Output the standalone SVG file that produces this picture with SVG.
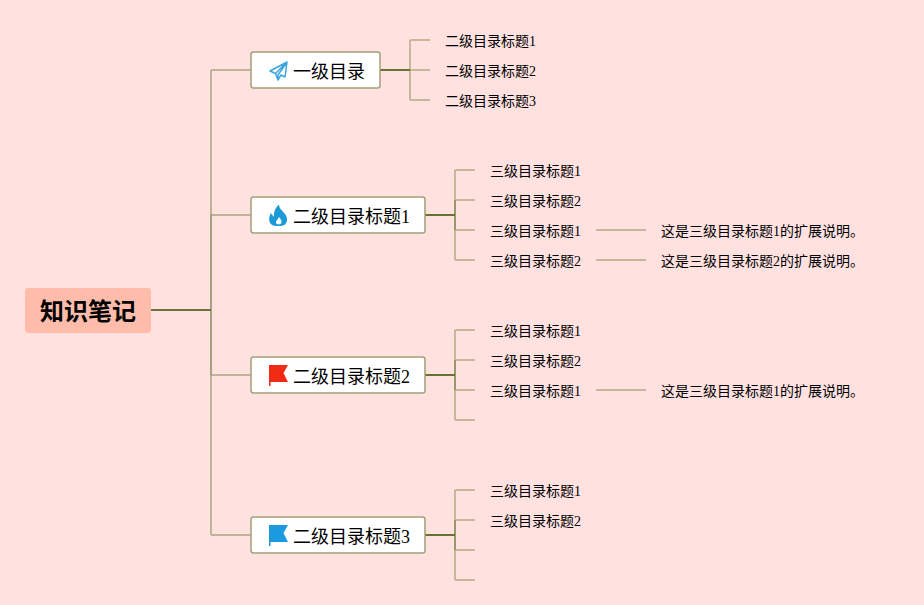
<svg xmlns="http://www.w3.org/2000/svg" width="924" height="605" viewBox="0 0 924 605">
<style>
text{font-family:"Liberation Serif","Noto Sans CJK SC",serif;fill:#000}
.t3{font-size:14px}
.t2{font-size:18px}
.root{font-size:24px;font-weight:700}
.box{fill:#fff;stroke:#a3a079;stroke-width:1.5}
.c{fill:none}
.a{stroke:#6c7240;stroke-width:2}
.b{stroke:#aca57e;stroke-width:1.5}
.f{stroke:#898c5c;stroke-width:1.5}
.d{stroke:#b3aa84;stroke-width:1.5}
.e{stroke:#667335;stroke-width:2}
</style>
<rect width="924" height="605" fill="#ffe1e0"/>
<g id="connectors" class="c">
<path class="b" d="M211 215V71Q211 70 212 70H251M211 215H251M211 375H251M211 375V534Q211 535 212 535H251"/>
<path class="f" d="M211 215V375"/>
<path class="a" d="M151 310H211"/>
<path class="d" d="M430 40H411Q410 40 410 41V99Q410 100 411 100H430M410 70H430"/>
<path class="e" d="M380 70H410"/>
<path class="d" d="M475 170H456Q455 170 455 171V259Q455 260 456 260H475M455 200H475M455 230H475"/>
<path class="f" d="M455 200V230"/>
<path class="e" d="M425 215H455"/>
<path class="d" d="M475 330H456Q455 330 455 331V419Q455 420 456 420H475M455 360H475M455 390H475"/>
<path class="f" d="M455 360V390"/>
<path class="e" d="M425 375H455"/>
<path class="d" d="M475 490H456Q455 490 455 491V579Q455 580 456 580H475M455 520H475M455 550H475"/>
<path class="f" d="M455 520V550"/>
<path class="e" d="M425 535H455"/>
<path class="d" d="M596 230H646M596 260H646M596 390H646"/>
</g>
<g id="root">
<rect x="25" y="288" width="126" height="45" rx="3" fill="#ffbcab"/>
<text class="root" x="40" y="320">知识笔记</text>
</g>
<g id="node-1">
<rect class="box" x="251" y="52" width="129" height="36" rx="2.500"/>
<path d="M287 62L270 71L275.500 73.500L278 80L281 75L285 77ZM275.500 73.500L287 62L278 75V80" fill="#fff" stroke="#3ba6dc" stroke-width="1.500" stroke-linejoin="round"/>
<text class="t2" x="293" y="78">一级目录</text>
</g>
<g id="node-1-1"><text class="t3" x="445" y="46">二级目录标题1</text></g>
<g id="node-1-2"><text class="t3" x="445" y="76">二级目录标题2</text></g>
<g id="node-1-3"><text class="t3" x="445" y="106">二级目录标题3</text></g>
<g id="node-2">
<rect class="box" x="251" y="197" width="174" height="36" rx="2.500"/>
<path d="M279 204.500C279 209 283 211 285 214C288 218 287.500 222 285 224.500C282.500 226.500 274 226.500 271.500 224.500C268.500 222 268.500 217 271 213C272 215 273 216 274 216.500C273.500 212 275.500 207.500 279 204.500Z" fill="#1b9ad8"/>
<path d="M279 217C280 219 282 220 281.500 222.500C281 225 276.500 225 276 223C275.500 221 277.500 220 279 217Z" fill="#fff"/>
<text class="t2" x="293" y="223">二级目录标题1</text>
</g>
<g id="node-2-1"><text class="t3" x="490" y="176">三级目录标题1</text></g>
<g id="node-2-2"><text class="t3" x="490" y="206">三级目录标题2</text></g>
<g id="node-2-3"><text class="t3" x="490" y="236">三级目录标题1</text></g>
<g id="node-2-4"><text class="t3" x="490" y="266">三级目录标题2</text></g>
<g id="note-2-3"><text class="t3" x="661" y="236">这是三级目录标题1的扩展说明。</text></g>
<g id="note-2-4"><text class="t3" x="661" y="266">这是三级目录标题2的扩展说明。</text></g>
<g id="node-3">
<rect class="box" x="251" y="357" width="174" height="36" rx="2.500"/>
<path d="M269 365H288L283.500 373L288 382H270.500V386H269Z" fill="#f12a14"/>
<text class="t2" x="293" y="383">二级目录标题2</text>
</g>
<g id="node-3-1"><text class="t3" x="490" y="336">三级目录标题1</text></g>
<g id="node-3-2"><text class="t3" x="490" y="366">三级目录标题2</text></g>
<g id="node-3-3"><text class="t3" x="490" y="396">三级目录标题1</text></g>
<g id="note-3-3"><text class="t3" x="661" y="396">这是三级目录标题1的扩展说明。</text></g>
<g id="node-4">
<rect class="box" x="251" y="517" width="174" height="36" rx="2.500"/>
<path d="M269 525H288L283.500 533L288 542H270.500V546H269Z" fill="#1b9ae0"/>
<text class="t2" x="293" y="543">二级目录标题3</text>
</g>
<g id="node-4-1"><text class="t3" x="490" y="496">三级目录标题1</text></g>
<g id="node-4-2"><text class="t3" x="490" y="526">三级目录标题2</text></g>
</svg>
